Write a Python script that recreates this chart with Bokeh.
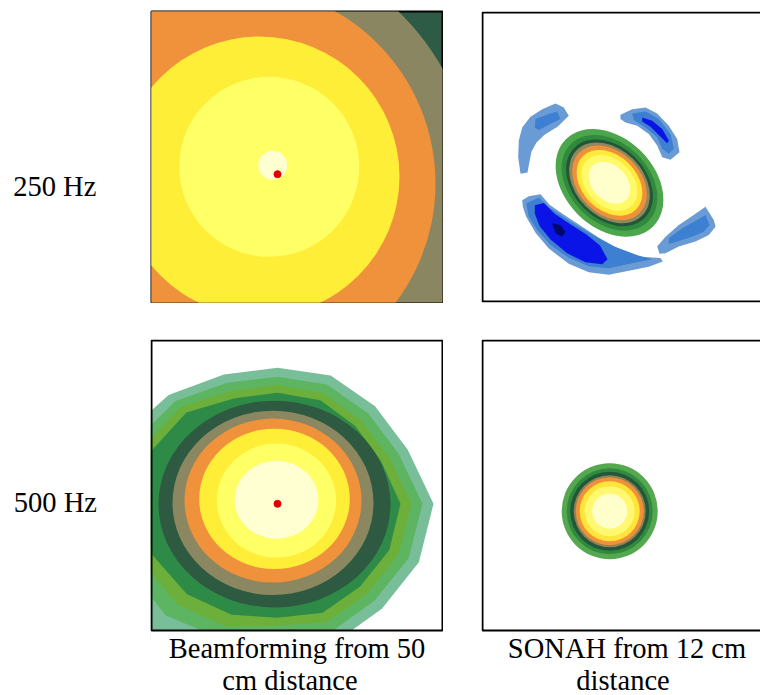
import numpy as np
from bokeh.plotting import figure
from bokeh.layouts import column, row
from bokeh.models import Range1d, Spacer
from bokeh.core.properties import value
from bokeh.embed import file_html
from bokeh.resources import INLINE

FONT = "Liberation Serif"

# ---------------- texts ----------------
row_labels = ["250 Hz", "500 Hz"]
col_titles = [["Beamforming from 50", "cm distance"], ["SONAH from 12 cm", "distance"]]

# ---------------- 250 Hz, beamforming (contour discs, outermost first) ----------------
bf250_background = "#2E5B45"
bf250_colors = ["#8A8662", "#F0913B", "#FFEE38", "#FFFF66", "#FFFFD2"]
bf250_cx = [74, 86, 108, 117.7, 121.2]
bf250_cy = [112, 119, 126, 135.7, 137.3]
bf250_r = [249, 198, 140, 90, 14.5]
bf250_source = [126, 128.3]

# ---------------- 500 Hz, beamforming ----------------
bf500_center = [126, 126.7]
bf500_egg_colors = ["#78BE98", "#5DB562", "#6DAF3B", "#2E8B47"]
bf500_egg_angles_deg = [0, 22.5, 45, 67.5, 90, 112.5, 135, 157.5, 180, 202.5, 225, 247.5, 270, 292.5, 315, 337.5]
bf500_egg_radii = [
    [156, 141, 138, 139, 136, 140, 154, 170, 178, 185, 190, 160, 142, 150, 148, 153],
    [145, 131, 128, 129, 127, 131, 145, 157, 163, 163, 158, 146, 132, 139, 137, 142],
    [134, 121, 118, 120, 119, 122, 137, 147, 150, 148, 142, 133, 122, 128, 127, 131],
    [123, 112, 110, 112, 111, 114, 129, 137, 138, 135, 128, 120, 114, 118, 117, 121],
]
bf500_colors = ["#2D5A40", "#8B8761", "#F0913B", "#FFEE38", "#FFFF66", "#FFFFD2"]
bf500_cx = [123, 121.5, 121.5, 123, 125, 125]
bf500_cy = [126.4, 127.6, 129.9, 131.6, 129.9, 130.7]
bf500_rx = [116, 100.5, 88.5, 75.3, 59.6, 42]
bf500_ry = [103.4, 92.2, 82, 70.2, 57, 39]

# ---------------- 250 Hz, SONAH ----------------
so250_center = [127, 119.5]
so250_colors = ["#4CA64C", "#2F8A3C", "#24543A", "#8C8A5C", "#F0913A", "#FFE93A", "#FFFA6A", "#FFFFCC"]
so250_a = [61.7, 54.8, 49.7, 46.3, 42.8, 37.7, 32, 24]
so250_b = [45, 40, 36.3, 33.8, 31.3, 27.5, 23.4, 17.5]
so250_tilt_deg = -45

so250_lobe_colors = ["#6A9BD5", "#3D7FD1", "#0A14E6", "#00086E"]
so250_lobes = [
    # (level index, xs, ys)
    (0, [73, 81.3, 86.3, 75, 62, 54, 49, 47, 45, 38, 35.7, 36.3, 39.7, 48, 59.7],
        [199.3, 195.3, 187, 176, 168, 160, 151, 141, 130, 128.7, 145.3, 162, 175.3, 186, 193.7]),
    (0, [138, 149.7, 163, 174.7, 186.3, 194.7, 197, 188, 179.7, 174.7, 166.3, 154.7, 143, 138],
        [188, 193.7, 195.3, 189.3, 177, 163.7, 150.3, 142.7, 145.3, 157, 168.7, 177, 180.3, 183.7]),
    (0, [174.7, 183, 196.3, 209.7, 223, 231.3, 233, 226.3, 213, 196.3, 183, 177],
        [55.3, 65.3, 77, 86, 95.3, 82, 75.3, 67, 60.3, 55.3, 48.7, 48]),
    (0, [39.7, 46.3, 58, 67, 80, 96.7, 116.7, 137, 158, 178, 180.3, 166.3, 146.3, 126.3, 106.3, 86.3, 66.3, 53, 43.7, 40.3],
        [102, 106, 108, 97.5, 88.3, 77.3, 64, 52.5, 45, 43.7, 40.3, 35, 31, 27, 29.5, 38, 53.3, 69.3, 85.3, 95.3]),
    (1, [53, 66.3, 74.7, 78, 66.3, 56.3, 52.3],
        [183.7, 188.7, 191.3, 183.7, 178, 172.7, 175.3]),
    (1, [149.7, 163, 176.3, 188, 191.3, 186.3, 179.7, 174.7, 163, 151.3],
        [189.3, 191.3, 183.7, 168.7, 153.7, 148.7, 153.7, 165.3, 175.3, 182.7]),
    (1, [186.3, 199.7, 214.7, 223, 227, 221.3, 209.7, 194.7, 186.3],
        [63.7, 73.7, 82, 87, 77, 70.3, 65.3, 60.3, 58]),
    (1, [43.7, 56.3, 67, 87, 107, 130.5, 155, 169.7, 149.7, 126.3, 106.3, 86.3, 68, 54.7, 46.3],
        [98.7, 104.7, 94.5, 81, 69, 56, 46.5, 42.5, 38.5, 33.5, 35.5, 44, 57, 72, 85.3]),
    (2, [159.7, 169.7, 179.7, 186.3, 184.7, 177, 168, 159.7],
        [185.3, 182, 173.7, 162, 159.3, 167, 176, 181.3]),
    (2, [52.3, 61.3, 72.5, 89, 104, 117.5, 125, 119.7, 103, 84.7, 68, 57, 52.3],
        [97, 99.3, 88, 77, 67.5, 56.5, 42.5, 37.5, 39.5, 48.5, 62.5, 76, 88.7]),
    (3, [69.7, 78, 83, 79.7, 73],
        [78.7, 77, 70.3, 65.3, 68.7]),
]

# ---------------- 500 Hz, SONAH ----------------
so500_center = [127.2, 119.3]
so500_colors = ["#55A84F", "#2F8A3E", "#26563A", "#8C8458", "#F0913A", "#FFE53A", "#FFF870", "#FFFFCC"]
so500_r = [48, 43, 39.5, 36, 34, 30, 25, 17.5]


# ---------------- helpers ----------------
def base_fig(w, h, xr, yr, bg="white", mb=0):
    p = figure(width=w, height=h, x_range=Range1d(*xr), y_range=Range1d(*yr),
               output_backend="svg", toolbar_location=None,
               x_axis_location=None, y_axis_location=None,
               min_border=mb, background_fill_color=bg, border_fill_color="white")
    p.grid.visible = False
    p.outline_line_color = None
    return p


def add_text(p, x, y, txt, align="left"):
    p.text(x=[x], y=[y], text=[txt], text_font=value(FONT), text_font_size="28.5px",
           text_baseline="alphabetic", text_align=align, text_color="black")


# ---------------- top-left: 250 Hz beamforming ----------------
tl = base_fig(293, 293, (0, 291), (0, 291), bg=bf250_background, mb=1)
tl.ellipse(x=bf250_cx, y=bf250_cy, width=[2 * r for r in bf250_r], height=[2 * r for r in bf250_r],
           fill_color=bf250_colors, line_color=None)
tl.scatter(x=[bf250_source[0]], y=[bf250_source[1]], size=7, color="#E00000")
tl.outline_line_color = "black"
tl.outline_line_width = 2

# ---------------- top-right: 250 Hz SONAH ----------------
tr = base_fig(279, 293, (-1, 278), (-1, 292))
n = len(so250_a)
tr.ellipse(x=[so250_center[0]] * n, y=[so250_center[1]] * n,
           width=[2 * a for a in so250_a], height=[2 * b for b in so250_b],
           angle=np.deg2rad(so250_tilt_deg), fill_color=so250_colors, line_color=None)
tr.patches(xs=[l[1] for l in so250_lobes], ys=[l[2] for l in so250_lobes],
           fill_color=[so250_lobe_colors[l[0]] for l in so250_lobes], line_color=None)
tr.quad(left=[0], right=[291], bottom=[0], top=[291], fill_color=None, line_color="black", line_width=2)

# ---------------- bottom-left: 500 Hz beamforming, frame also holds its caption ----------------
bl = base_fig(293, 356, (-1, 292), (-65, 291))
th = np.deg2rad(np.array(bf500_egg_angles_deg))
egg_xs = [list(bf500_center[0] + np.array(r) * np.cos(th)) for r in bf500_egg_radii]
egg_ys = [list(bf500_center[1] + np.array(r) * np.sin(th)) for r in bf500_egg_radii]
bl.patches(xs=egg_xs, ys=egg_ys, fill_color=bf500_egg_colors, line_color=None)
bl.ellipse(x=bf500_cx, y=bf500_cy, width=[2 * r for r in bf500_rx], height=[2 * r for r in bf500_ry],
           fill_color=bf500_colors, line_color=None)
bl.scatter(x=[bf500_center[0]], y=[bf500_center[1]], size=7, color="#E00000")
# white masks outside the panel box (extend past the frame to avoid seams)
bl.quad(left=[-20, -20, 291, -20], right=[310, 0.5, 310, 310], bottom=[-80, -80, -80, 290], top=[0.5, 310, 310, 310],
        fill_color="white", line_color=None)
bl.quad(left=[0], right=[291], bottom=[0], top=[290], fill_color=None, line_color="black", line_width=2)
add_text(bl, 145.5, -18, col_titles[0][0], align="center")
add_text(bl, 138.5, -50, col_titles[0][1], align="center")

# ---------------- bottom-right: 500 Hz SONAH, frame also holds its caption ----------------
br = base_fig(279, 356, (-1, 278), (-65, 291))
m = len(so500_r)
br.ellipse(x=[so500_center[0]] * m, y=[so500_center[1]] * m,
           width=[2 * r for r in so500_r], height=[2 * r for r in so500_r],
           fill_color=so500_colors, line_color=None)
br.quad(left=[0], right=[291], bottom=[0], top=[290], fill_color=None, line_color="black", line_width=2)
add_text(br, 144.5, -18, col_titles[1][0], align="center")
add_text(br, 140.5, -50, col_titles[1][1], align="center")

# ---------------- row labels (page-like coordinates, y downwards) ----------------
lab1 = base_fig(150, 293, (0, 150), (303, 10))
add_text(lab1, 12.7, 186.7, row_labels[0])
lab2 = base_fig(150, 356, (0, 150), (695, 339))
add_text(lab2, 13.3, 502.3, row_labels[1])

layout = column(
    Spacer(width=760, height=10),
    row(lab1, tl, Spacer(width=38, height=293), tr),
    Spacer(width=760, height=36),
    row(lab2, bl, Spacer(width=38, height=356), br),
)

open("out.html", "w").write(file_html(layout, INLINE))
